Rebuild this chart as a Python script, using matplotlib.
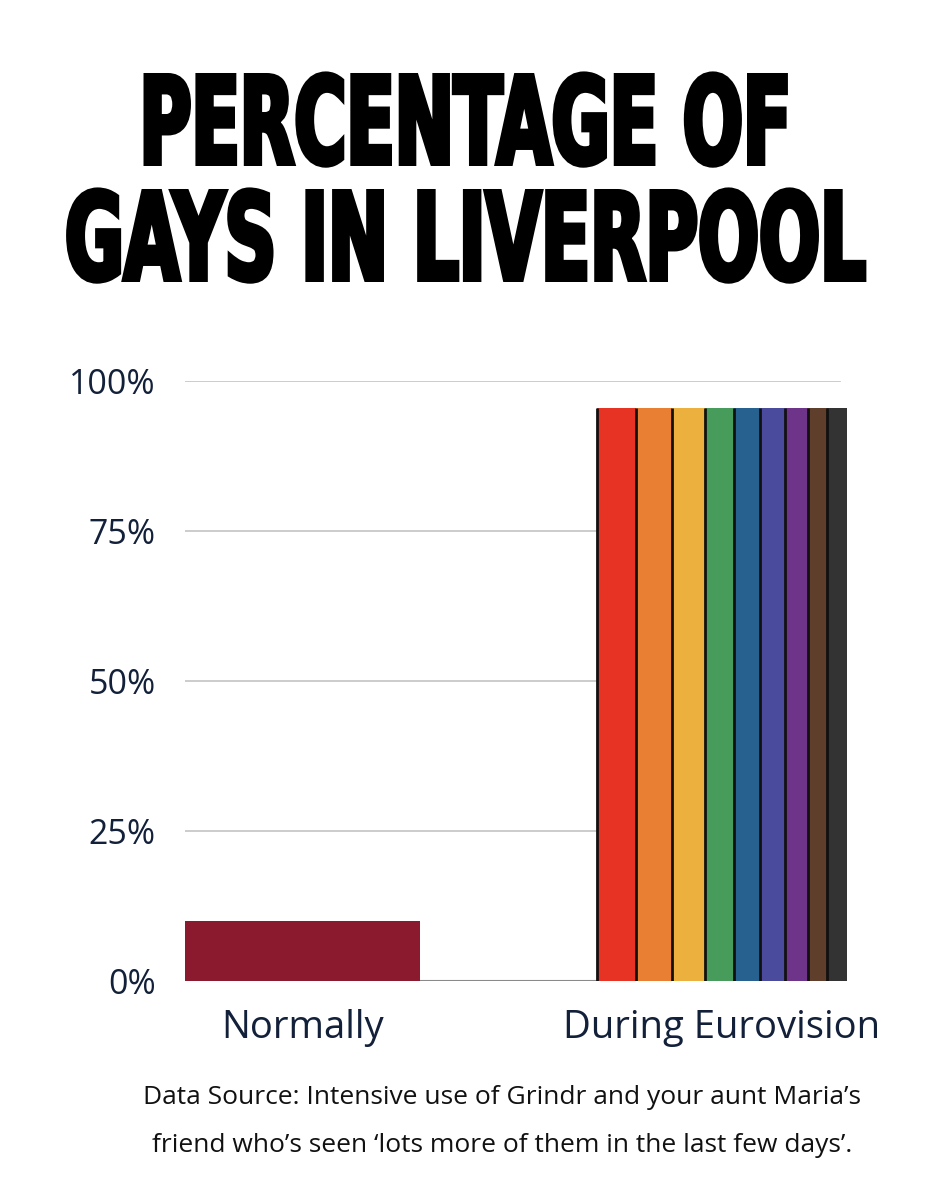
import matplotlib
matplotlib.use('Agg')
import matplotlib.pyplot as plt
import matplotlib.patheffects as pe
from matplotlib.transforms import Affine2D

# data
categories = ['Normally', 'During Eurovision']
values = [10, 95.5]
yticks = [0, 25, 50, 75, 100]
ytick_labels = ['0%', '25%', '50%', '75%', '100%']

title_lines = ['PERCENTAGE OF', 'GAYS IN LIVERPOOL']
source_lines = ['Data Source: Intensive use of Grindr and your aunt Maria\u2019s',
                'friend who\u2019s seen \u2018lots more of them in the last few days\u2019.']

# rainbow stripes of the second bar (share of the bar width)
stripe_colors = ['#e63323', '#e87f33', '#ebb03d', '#489c5b', '#27618f',
                 '#4b4b9d', '#6d348a', '#5f3e2b', '#333333']
stripe_share = [39.3, 35.7, 33.3, 28.3, 26.7, 25, 22.7, 19, 20]

W, H = 953, 1200
navy = '#13203a'
body_font = ['Open Sans', 'DejaVu Sans']


class Squeeze(pe.AbstractPathEffect):
    # reshape glyphs around (cx, cy) and fatten them with a stroke
    def __init__(self, sx, sy, cx, cy, lw):
        super().__init__()
        self.sx, self.sy = sx, sy
        self.cx, self.cy = cx, cy
        self.lw = lw

    def draw_path(self, renderer, gc, tpath, affine, rgbFace=None):
        t = affine + Affine2D().translate(-self.cx, -self.cy).scale(self.sx, self.sy).translate(self.cx, self.cy)
        gc0 = renderer.new_gc()
        gc0.copy_properties(gc)
        gc0.set_linewidth(self.lw)
        gc0.set_foreground('black')
        gc0.set_joinstyle('miter')
        renderer.draw_path(gc0, tpath, t, rgbFace)
        gc0.restore()


fig = plt.figure(figsize=(W / 100, H / 100), dpi=100)
fig.patch.set_facecolor('white')

ax = fig.add_axes([185 / W, 1 - 981 / H, 662 / W, 600 / H])
ax.set_xlim(-0.28, 1.298)
ax.set_ylim(0, 100)

for y in yticks[1:]:
    ax.axhline(y, xmin=0, xmax=(1.281 + 0.28) / 1.578, color='#c8c8c8', lw=1.3, zorder=1)
ax.axhline(0, color='#8a8a8a', lw=1.5, zorder=1)

ax.bar(0, values[0], width=0.56, color='#8b1a2f', zorder=2)

bw = 0.596
tot = sum(stripe_share)
left = 1 - bw / 2
edges = [left]
for c, s in zip(stripe_colors, stripe_share):
    w = bw * s / tot
    ax.bar(left, values[1], width=w, align='edge', color=c, linewidth=0, zorder=3)
    left += w
    edges.append(left)
ax.vlines(edges[:-1], 0, values[1], color='#111111', lw=2.0, zorder=4)

for sp in ax.spines.values():
    sp.set_visible(False)
ax.set_yticks(yticks)
ax.set_yticklabels(ytick_labels, fontsize=24.5, color=navy, family=body_font)
ax.set_xticks([0, 1])
ax.set_xticklabels(categories, fontsize=27.5, color=navy, family=body_font)
ax.tick_params(axis='y', length=0, pad=21)
ax.tick_params(axis='x', length=0, pad=20)

# title
title_y = [166, 282]
title_w = [658, 807]
cap_h = 93
lw_px = 5
base_size = 50
texts = []
for line, y in zip(title_lines, title_y):
    t = fig.text(466 / W, 1 - (y - lw_px / 2) / H, line, ha='center', va='baseline',
                 fontsize=base_size, fontweight='bold', family='DejaVu Sans', color='black')
    texts.append(t)
fig.canvas.draw()
r = fig.canvas.get_renderer()
cap_px = base_size * 100 / 72 * 0.729
for t, tw, y in zip(texts, title_w, title_y):
    ext = t.get_window_extent(r)
    sx = (tw - lw_px) / ext.width
    sy = (cap_h - lw_px) / cap_px
    t.set_path_effects([Squeeze(sx, sy, 466, H - (y - lw_px / 2), lw_px * 0.72)])

fig.text(502 / W, 1 - 1097 / H, source_lines[0], ha='center', va='center',
         fontsize=19, color='#111111', family=body_font)
fig.text(502 / W, 1 - 1146 / H, source_lines[1], ha='center', va='center',
         fontsize=19, color='#111111', family=body_font)

fig.savefig('out.png', dpi=100, facecolor='white')
